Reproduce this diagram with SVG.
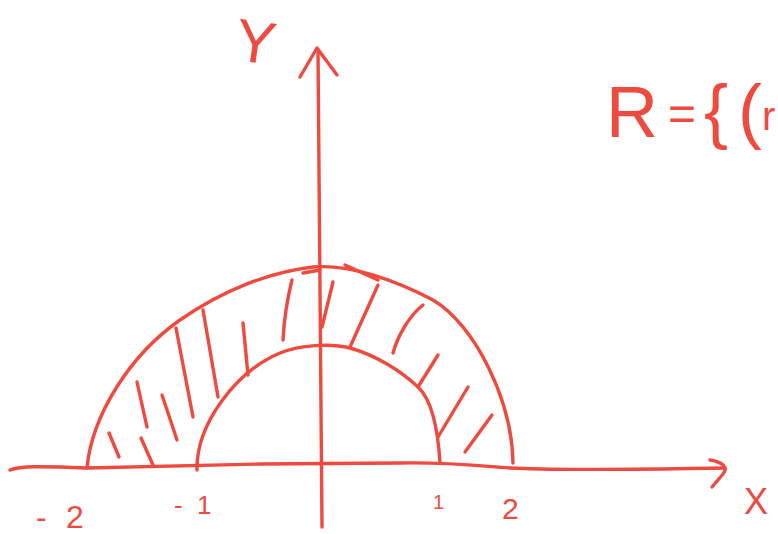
<svg xmlns="http://www.w3.org/2000/svg" width="778" height="534" viewBox="0 0 778 534">
<style>
.ink{fill:none;stroke:#ef4a3f;stroke-width:3.4;stroke-linecap:round;stroke-linejoin:round}
.lbl{fill:#ef4a3f;font-family:"Liberation Sans",Arial,sans-serif}
</style>
<rect width="778" height="534" fill="#ffffff"/>
<g id="connectors">
<g id="x-axis">
<path class="ink" d="M10,470 C20,466 40,466 87,468 L260,464 L400,463 C450,462 480,466 510,468 C560,471 650,469 724,468"/>
<path class="ink" d="M710,460 C722,462 729,467 723,474 L712,487"/>
</g>
<g id="y-axis">
<path class="ink" d="M322,527 C321,420 319,250 318,50"/>
<path class="ink" d="M300,77 L317,48 L337,75"/>
</g>
</g>
<g id="region">
<path class="ink" d="M87,468 C92,415 130,355 180,320 C223,290 270,272 313,267 C350,264 395,280 433,300 C475,325 512,400 513,463"/>
<path class="ink" d="M197,470 C196,425 235,372 280,353 C300,345 330,343 350,348 C375,355 400,370 418,387 C432,400 438,430 440,463"/>
<g id="hatching">
<path class="ink" d="M109,433 L119,457"/>
<path class="ink" d="M137,382 L147,427"/>
<path class="ink" d="M141,438 L153,465"/>
<path class="ink" d="M162,395 L177,440"/>
<path class="ink" d="M176,328 L193,417"/>
<path class="ink" d="M203,310 L218,397"/>
<path class="ink" d="M243,323 L248,375"/>
<path class="ink" d="M292,280 C287,300 284,320 283,340"/>
<path class="ink" d="M303,273 L320,270"/>
<path class="ink" d="M333,282 L322,327"/>
<path class="ink" d="M345,265 L378,280"/>
<path class="ink" d="M378,285 L350,347"/>
<path class="ink" d="M423,305 C410,315 398,335 393,353"/>
<path class="ink" d="M438,355 L418,387"/>
<path class="ink" d="M468,387 L438,437"/>
<path class="ink" d="M492,415 L465,452"/>
</g>
</g>
<g id="labels">
<text class="lbl" x="236" y="62" font-size="60" transform="rotate(8 252 40)">Y</text>
<text class="lbl" x="744" y="514" font-size="36">X</text>
<text class="lbl" font-size="32"><tspan x="36" y="528">-</tspan><tspan x="66" y="528">2</tspan></text>
<text class="lbl" font-size="26"><tspan x="174" y="514">-</tspan><tspan x="197" y="514">1</tspan></text>
<text class="lbl" x="433" y="509" font-size="20">1</text>
<text class="lbl" x="502" y="519" font-size="30">2</text>
<text class="lbl" font-size="72"><tspan x="606" y="137">R</tspan><tspan x="668" y="130" font-size="48">=</tspan><tspan x="704" y="135">{</tspan><tspan x="738" y="135">(</tspan><tspan x="762" y="130" font-size="40">r</tspan></text>
</g>
</svg>
